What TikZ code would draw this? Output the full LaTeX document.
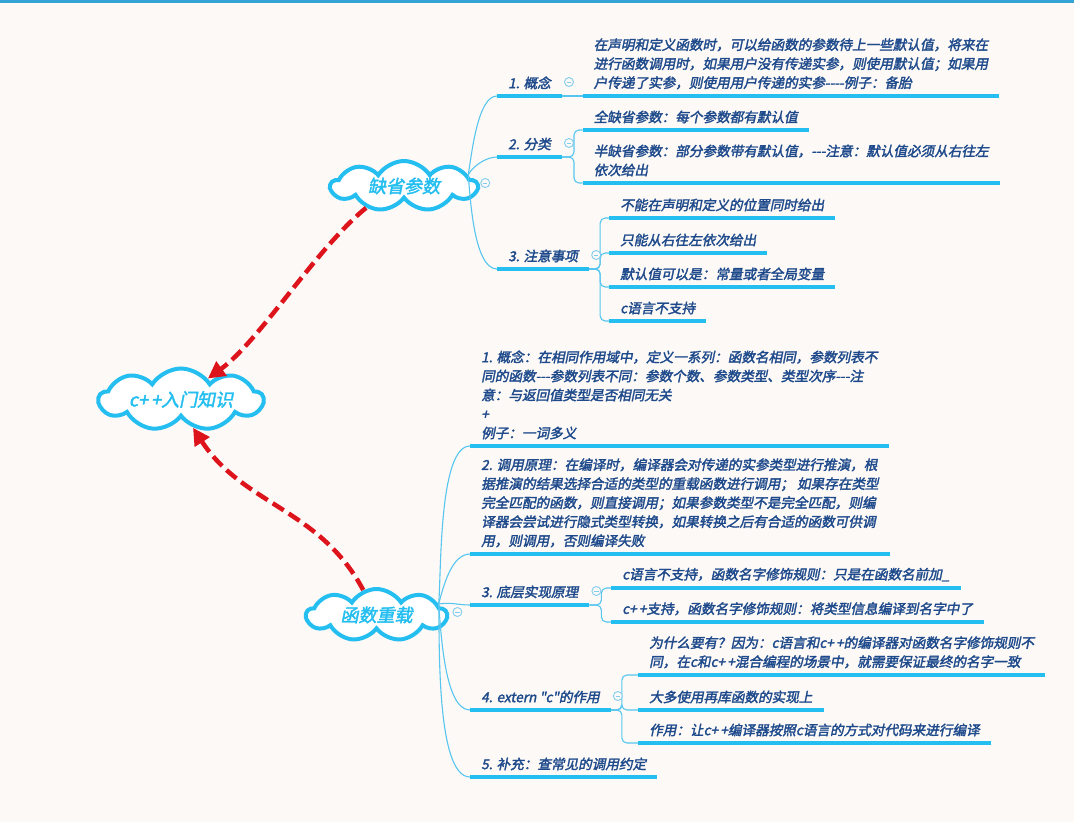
\documentclass[tikz,border=0pt]{standalone}
\usepackage{fontspec}
\usepackage{tikz}
\usetikzlibrary{positioning,arrows.meta,shapes.symbols}

\newfontfamily\mapfont{Noto Sans CJK SC}[FakeSlant=0.2,FakeBold=2.2,Ligatures=TeXOff]

\definecolor{paper}{RGB}{253,249,246}
\definecolor{topbar}{RGB}{52,164,214}
\definecolor{mapcyan}{RGB}{36,190,240}
\definecolor{twigc}{RGB}{86,198,240}
\definecolor{foldc}{RGB}{130,205,238}
\definecolor{mapblue}{RGB}{30,74,140}
\definecolor{mapred}{RGB}{222,20,28}

\begin{document}
\begin{tikzpicture}[x=1pt, y=1pt,
    hub/.style={cloud, cloud puffs=9, cloud puff arc=115, cloud ignores aspect,
        draw=mapcyan, line width=4pt, fill=white, text=mapcyan, inner sep=2pt,
        font={\mapfont\fontsize{18}{20}\selectfont}},
    topic/.style={anchor=south west, inner xsep=11pt, inner ysep=6.5pt, align=left,
        text=mapblue, font={\mapfont\fontsize{13.6}{19}\selectfont}},
    uline/.style={draw=mapcyan, line width=4pt},
    twig/.style={draw=twigc, line width=1.1pt},
    fold/.style={circle, draw=foldc, fill=paper, line width=0.9pt, minimum size=9pt, inner sep=0pt,
        path picture={\draw[foldc, line width=0.9pt]
            ([xshift=-2.2pt]path picture bounding box.center) -- ([xshift=2.2pt]path picture bounding box.center);}},
    link/.style={draw=mapred, line width=4.5pt, dash pattern=on 13pt off 6pt,
        -{Triangle[length=17pt,width=17pt]}}]

    \fill[paper] (0,0) rectangle (1074,-822);
    \useasboundingbox (0,0) rectangle (1074,-822);
    \draw[topbar, line width=3pt] (0,-1.5) -- (1074,-1.5);

    % central topic and the two main topics
    \node[hub, minimum width=164, minimum height=62] (root) at (181,-399.5) {c+\,+入门知识};
    \node[hub, minimum width=146, minimum height=50] (dflt) at (404,-186) {缺省参数};
    \node[hub, minimum width=140, minimum height=52] (ovld) at (376.5,-615) {函数重载};

    % 缺省参数
    \node[topic] (b1) at (497,-96) {1. 概念};
    \node[topic] (b2) at (497,-157) {2. 分类};
    \node[topic] (b3) at (497,-269) {3. 注意事项};

    \node[topic] (l11) at (582.5,-96) {在声明和定义函数时，可以给函数的参数待上一些默认值，将来在\\进行函数调用时，如果用户没有传递实参，则使用默认值；如果用\\户传递了实参，则使用用户传递的实参----例子：备胎};
    \node[topic] (l21) at (582.5,-130) {全缺省参数：每个参数都有默认值};
    \node[topic] (l22) at (582.5,-183) {半缺省参数：部分参数带有默认值，---注意：默认值必须从右往左\\依次给出};
    \node[topic] (l31) at (609,-218) {不能在声明和定义的位置同时给出};
    \node[topic] (l32) at (609,-253) {只能从右往左依次给出};
    \node[topic] (l33) at (609,-287) {默认值可以是：常量或者全局变量};
    \node[topic] (l34) at (609,-321) {c语言不支持};

    % 函数重载
    \node[topic] (o1) at (470,-446) {1. 概念：在相同作用域中，定义一系列：函数名相同，参数列表不\\同的函数---参数列表不同：参数个数、参数类型、类型次序---注\\意：与返回值类型是否相同无关\\+\\例子：一词多义};
    \node[topic] (o2) at (470,-554) {2. 调用原理：在编译时，编译器会对传递的实参类型进行推演，根\\据推演的结果选择合适的类型的重载函数进行调用； 如果存在类型\\完全匹配的函数，则直接调用；如果参数类型不是完全匹配，则编\\译器会尝试进行隐式类型转换，如果转换之后有合适的函数可供调\\用，则调用，否则编译失败};
    \node[topic] (o3) at (470,-605) {3. 底层实现原理};
    \node[topic] (o31) at (611,-588) {c语言不支持，函数名字修饰规则：只是在函数名前加\_};
    \node[topic] (o32) at (611,-622) {c+\,+支持，函数名字修饰规则：将类型信息编译到名字中了};
    \node[topic] (o4) at (470,-710) {4. extern "c"的作用};
    \node[topic] (o41) at (638,-675) {为什么要有？因为：c语言和c+\,+的编译器对函数名字修饰规则不\\同，在c和c+\,+混合编程的场景中，就需要保证最终的名字一致};
    \node[topic] (o42) at (638,-710) {大多使用再库函数的实现上};
    \node[topic] (o43) at (638,-743) {作用：让c+\,+编译器按照c语言的方式对代码来进行编译};
    \node[topic] (o5) at (470,-777) {5. 补充：查常见的调用约定};

    \foreach \nm in {b1,b2,b3,l11,l21,l22,l31,l32,l33,l34,o1,o2,o3,o31,o32,o4,o41,o42,o43,o5}
        \draw[uline] (\nm.south west) -- (\nm.south east);

    \path[twig]
        (dflt.10) edge[out=80, in=180, looseness=0.6] (b1.south west)
        (dflt.10) edge[out=60, in=180, looseness=0.8] (b2.south west)
        (dflt.10) edge[out=-85, in=180, looseness=0.6] (b3.south west)
        (ovld.10) edge[out=85, in=180, looseness=0.5] (o1.south west)
        (ovld.10) edge[out=75, in=180, looseness=0.8] (o2.south west)
        (ovld.10) edge[out=10, in=180] (o3.south west)
        (ovld.10) edge[out=-85, in=180, looseness=0.6] (o4.south west)
        (ovld.10) edge[out=-88, in=180, looseness=0.5] (o5.south west);

    \draw[twig] (b1.south east) -- (l11.south west);
    \draw[twig, rounded corners=5pt] (b2.south east) -- ++(12,0) |- (l21.south west);
    \draw[twig, rounded corners=5pt] (b2.south east) -- ++(12,0) |- (l22.south west);
    \foreach \nm in {l31,l32,l33,l34}
        \draw[twig, rounded corners=5pt] (b3.south east) -- ++(11,0) |- (\nm.south west);
    \foreach \nm in {o31,o32}
        \draw[twig, rounded corners=5pt] (o3.south east) -- ++(12,0) |- (\nm.south west);
    \foreach \nm in {o41,o42,o43}
        \draw[twig, rounded corners=5pt] (o4.south east) -- ++(11,0) |- (\nm.south west);

    \foreach \nm in {b1,b2,b3,o3,o4}
        \node[fold] (\nm-fold) at ([shift={(7,14)}]\nm.south east) {};
    \node[fold] (dflt-fold) at ([shift={(5,3)}]dflt.east) {};
    \node[fold] (ovld-fold) at ([shift={(8,3)}]ovld.east) {};

    \draw[link] (dflt.210) to[out=219, in=36, looseness=0.7] (root.38);
    \draw[link] (ovld.118) to[out=118, in=303] (root.-67);

\end{tikzpicture}
\end{document}
